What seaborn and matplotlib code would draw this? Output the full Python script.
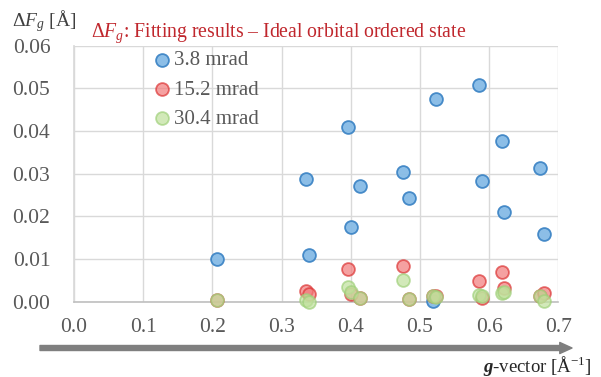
import matplotlib
matplotlib.use("Agg")
import matplotlib.pyplot as plt
import seaborn as sns
import pandas as pd
from matplotlib.ticker import MultipleLocator, FormatStrFormatter

# --- data ---
g_vector = [0.207, 0.336, 0.340, 0.396, 0.400, 0.414, 0.476, 0.484,
            0.519, 0.523, 0.585, 0.590, 0.619, 0.622, 0.673, 0.679]
df_3_8 = [0.0101, 0.0287, 0.0110, 0.0410, 0.0176, 0.0272, 0.0304, 0.0244,
          0.0001, 0.0476, 0.0508, 0.0283, 0.0377, 0.0209, 0.0314, 0.0159]
df_15_2 = [0.0003, 0.0025, 0.0017, 0.0077, 0.0017, 0.0008, 0.0084, 0.0006,
           0.0012, 0.0012, 0.0049, 0.0009, 0.0069, 0.0031, 0.0012, 0.0021]
df_30_4 = [0.0003, 0.0004, 0.0000, 0.0034, 0.0023, 0.0008, 0.0051, 0.0006,
           0.0012, 0.0010, 0.0016, 0.0012, 0.0020, 0.0022, 0.0012, 0.0002]
series_labels = ["3.8 mrad", "15.2 mrad", "30.4 mrad"]

sns.set_theme(style="white")
plt.rcParams["font.family"] = ["Liberation Serif", "DejaVu Serif"]
plt.rcParams["mathtext.fontset"] = "custom"
plt.rcParams["mathtext.rm"] = "Liberation Serif"
plt.rcParams["mathtext.it"] = "Liberation Serif:italic"
plt.rcParams["mathtext.bf"] = "Liberation Serif:italic:bold"

fig = plt.figure(figsize=(6.01, 3.77), dpi=100)
ax = fig.add_axes([0.123, 0.2, 0.806, 0.679])

styles = [
    dict(color="#86bbe6", edgecolor="#3f86c6", alpha=0.95),
    dict(color="#f27a7a", edgecolor="#dc3434", alpha=0.7),
    dict(color="#c0e19c", edgecolor="#9fd07a", alpha=0.7),
]
for y, lab, st in zip([df_3_8, df_15_2, df_30_4], series_labels, styles):
    d = pd.DataFrame({"g": g_vector, "dF": y})
    sns.scatterplot(data=d, x="g", y="dF", s=85, linewidth=1.3,
                    label=lab, ax=ax, zorder=3, clip_on=False, **st)

ax.set_xlim(0, 0.7)
ax.set_ylim(0, 0.06)
ax.xaxis.set_major_locator(MultipleLocator(0.1))
ax.xaxis.set_minor_locator(MultipleLocator(0.02))
ax.yaxis.set_major_locator(MultipleLocator(0.01))
ax.yaxis.set_minor_locator(MultipleLocator(0.002))
ax.xaxis.set_major_formatter(FormatStrFormatter("%.1f"))
ax.yaxis.set_major_formatter(FormatStrFormatter("%.2f"))
ax.grid(True, which="major", color="#d9d9d9", lw=1)
ax.set_axisbelow(True)
ax.tick_params(axis="both", which="both", direction="in", length=4,
               color="#bfbfbf", labelsize=15.5, labelcolor="#595959")
ax.tick_params(axis="y", pad=17)
ax.tick_params(axis="x", pad=12)
for side in ["top", "right"]:
    ax.spines[side].set_visible(False)
ax.spines["left"].set_color("#d9d9d9")
ax.spines["bottom"].set_color("#bfbfbf")
ax.spines["bottom"].set_linewidth(1.2)
ax.set_xlabel("")
ax.set_ylabel("")

ax.legend(loc="upper left", bbox_to_anchor=(0.241, 0.893),
          bbox_transform=fig.transFigure, frameon=False, fontsize=15,
          handlelength=0.6, handletextpad=0.3, borderpad=0,
          labelspacing=0.46, labelcolor="#595959")

fig.text(12 / 601, 1 - 26 / 377, r"$\Delta F_g$ [Å]", fontsize=14,
         color="#404040", ha="left", va="baseline")
fig.text(91 / 601, 1 - 37 / 377,
         r"$\Delta F_g$: Fitting results – Ideal orbital ordered state",
         fontsize=14.2, color="#c0272d", ha="left", va="baseline")

ax.annotate("", xy=(572 / 601, 1 - 348 / 377), xytext=(40 / 601, 1 - 348 / 377),
            xycoords="figure fraction", textcoords="figure fraction",
            arrowprops=dict(arrowstyle="simple,tail_width=0.45,head_width=1.0,head_length=1.1",
                            mutation_scale=8, color="#7f7f7f", shrinkA=0, shrinkB=0))
fig.text(592 / 601, 1 - 372 / 377, r"$\mathbf{g}$-vector [Å$^{-1}$]",
         fontsize=13.5, color="#262626", ha="right", va="baseline")

fig.savefig("out.png", dpi=100)
